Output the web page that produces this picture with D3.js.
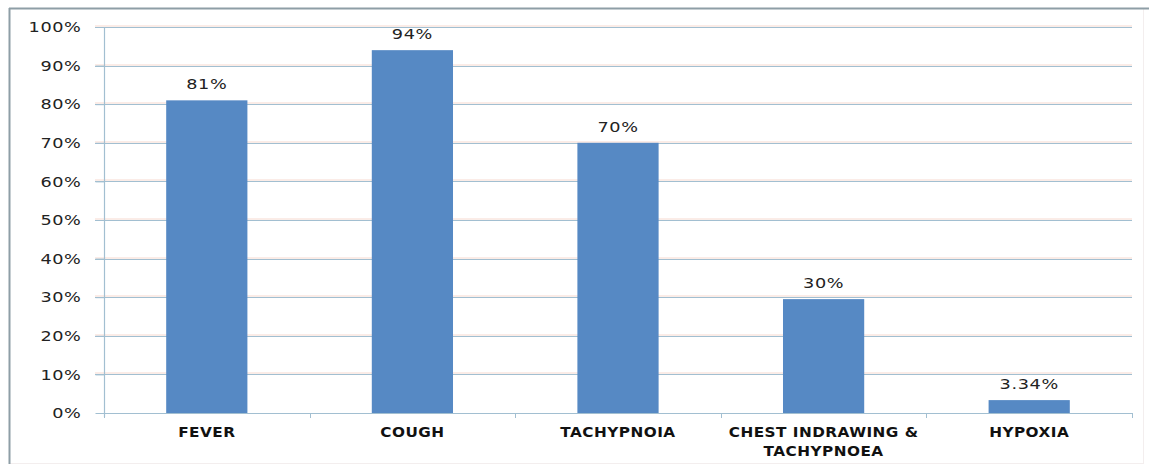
<!DOCTYPE html>
<html><head><meta charset="utf-8">
<script src="https://cdn.jsdelivr.net/npm/d3@7/dist/d3.min.js"></script>
<style>body{margin:0;background:#fff}svg{display:block}</style>
</head><body>
<svg id="c" width="1149" height="466"></svg>
<script>
const categories = [["FEVER"], ["COUGH"], ["TACHYPNOIA"], ["CHEST INDRAWING &", "TACHYPNOEA"], ["HYPOXIA"]];
const values = [81, 94, 70, 29.5, 3.34];
const valueLabels = ["81%", "94%", "70%", "30%", "3.34%"];
const yTicks = [0, 10, 20, 30, 40, 50, 60, 70, 80, 90, 100];

const svg = d3.select("#c");
const W = 1149, H = 466;
const m = {left: 104, right: 17, top: 27, bottom: 53};
const FONT = "DejaVu Sans, Verdana, sans-serif";
const SX = 1.22;

// frame
svg.append("rect").attr("x", 9.5).attr("y", 8.5).attr("width", 1134).attr("height", 455)
  .attr("fill", "#fff").attr("stroke", "#f3eeee").attr("stroke-width", 1);
svg.append("line").attr("x1", 9.5).attr("x2", 9.5).attr("y1", 8).attr("y2", 464).attr("stroke", "#8e9ea6").attr("stroke-width", 2);
svg.append("line").attr("x1", 9).attr("x2", 1149).attr("y1", 8.5).attr("y2", 8.5).attr("stroke", "#8e9ea6").attr("stroke-width", 2);

const x = d3.scaleBand().domain(d3.range(categories.length)).range([m.left, W - m.right]).paddingInner(0.605).paddingOuter(0.3025);
const xOuter = d3.scaleBand().domain(d3.range(categories.length)).range([m.left, W - m.right]);
const y = d3.scaleLinear().domain([0, 100]).range([H - m.bottom, m.top]);

// gridlines (with faint pink halo)
const grid = svg.append("g");
grid.selectAll("line.halo").data(yTicks.slice(1)).join("line")
  .attr("x1", m.left - 9).attr("x2", W - m.right)
  .attr("y1", d => Math.round(y(d)) - 1).attr("y2", d => Math.round(y(d)) - 1)
  .attr("stroke", "#f6d9cf").attr("stroke-width", 1);
grid.selectAll("line.g").data(yTicks.slice(1)).join("line")
  .attr("x1", m.left - 9).attr("x2", W - m.right)
  .attr("y1", d => Math.round(y(d)) + 0.5).attr("y2", d => Math.round(y(d)) + 0.5)
  .attr("stroke", "#a2bfd1").attr("stroke-width", 1.2);

// bars
svg.append("g").selectAll("rect").data(values).join("rect")
  .attr("x", (d, i) => x(i)).attr("width", x.bandwidth())
  .attr("y", d => y(d)).attr("height", d => y(0) - y(d))
  .attr("fill", "#5689c4");

// y axis
const yAxis = d3.axisLeft(y).tickValues(yTicks).tickFormat(d => d + "%").tickSize(9).tickPadding(0);
const ya = svg.append("g").attr("transform", `translate(${m.left + 0.5},0)`).call(yAxis);
ya.select(".domain").attr("stroke", "#a2bfd1").attr("stroke-width", 1.2).attr("d", `M0,${m.top}V${y(0) + 4}`);
ya.selectAll(".tick line").attr("stroke", "#a2bfd1");
ya.selectAll("text")
  .attr("x", null)
  .attr("transform", `translate(-23,0) scale(${SX},1)`)
  .attr("font-family", FONT).attr("font-size", 14.5)
  .attr("letter-spacing", 0.5).attr("fill", "#222");

// x axis
const xAxisLine = svg.append("g");
xAxisLine.append("line").attr("x1", m.left).attr("x2", W - m.right)
  .attr("y1", Math.round(y(0)) + 0.5).attr("y2", Math.round(y(0)) + 0.5)
  .attr("stroke", "#a2bfd1").attr("stroke-width", 1.2);
xAxisLine.selectAll("line.t").data(d3.range(categories.length + 1)).join("line")
  .attr("x1", i => Math.round(m.left + i * xOuter.step()) + 0.5)
  .attr("x2", i => Math.round(m.left + i * xOuter.step()) + 0.5)
  .attr("y1", y(0)).attr("y2", y(0) + 5).attr("stroke", "#a2bfd1");

const xl = svg.append("g").selectAll("text").data(categories).join("text")
  .attr("transform", (d, i) => `translate(${xOuter(i) + xOuter.bandwidth() / 2},${y(0) + 24}) scale(1.15,1)`)
  .attr("text-anchor", "middle")
  .attr("font-family", FONT).attr("font-weight", "bold")
  .attr("font-size", 13.3).attr("letter-spacing", 0.4).attr("fill", "#111");
xl.selectAll("tspan").data(d => d).join("tspan")
  .attr("x", 0)
  .attr("dy", (d, i) => i === 0 ? 0 : 19)
  .text(d => d);

// value labels
svg.append("g").selectAll("text").data(values).join("text")
  .attr("transform", (d, i) => `translate(${x(i) + x.bandwidth() / 2},${y(d) - 11}) scale(${SX},1)`)
  .attr("text-anchor", "middle")
  .attr("font-family", FONT).attr("font-size", 14.5)
  .attr("letter-spacing", 0.5).attr("fill", "#222")
  .text((d, i) => valueLabels[i]);
</script>
</body></html>
